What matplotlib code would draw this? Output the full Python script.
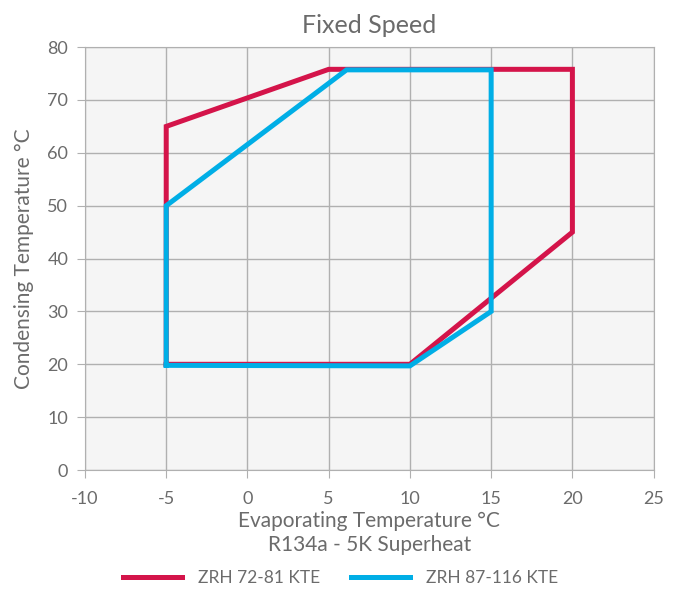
import matplotlib
matplotlib.use("Agg")
import matplotlib.pyplot as plt

plt.rcParams['font.family'] = ['Lato', 'DejaVu Sans']
plt.rcParams['axes.unicode_minus'] = False

# envelope corners (evaporating, condensing)
red_x = [-5, -5, 5, 20, 20, 10, -5]
red_y = [20, 65, 75.8, 75.8, 45, 20, 20]
blue_x = [-5, -5, 6.1, 15, 15, 10, -5]
blue_y = [19.8, 50, 75.7, 75.7, 30, 19.7, 19.8]

txt = '#6b6b6b'

fig = plt.figure(figsize=(6.81, 5.89), dpi=100)
ax = fig.add_axes([0.1248, 0.202, 0.835, 0.718])
ax.set_facecolor('#f5f5f5')

ax.plot(red_x, red_y, color='#d4144a', lw=3.6, label='ZRH 72-81 KTE', solid_joinstyle='miter', zorder=3)
ax.plot(blue_x, blue_y, color='#00aee6', lw=3.6, label='ZRH 87-116 KTE', solid_joinstyle='miter', zorder=4)

ax.set_xlim(-10, 25)
ax.set_ylim(0, 80)
ax.set_xticks(range(-10, 26, 5))
ax.set_yticks(range(0, 81, 10))
ax.grid(True, color='#b0b0b0', lw=1)
for s in ax.spines.values():
    s.set_color('#b0b0b0')
ax.tick_params(colors='#b0b0b0', labelcolor=txt, labelsize=13, length=6)
ax.tick_params(axis='x', pad=9)
ax.tick_params(axis='y', pad=6)

ax.set_title('Fixed Speed', fontsize=18, color=txt, pad=10)
ax.set_xlabel('Evaporating Temperature \u00b0C\nR134a - 5K Superheat', fontsize=15, color=txt, labelpad=3, linespacing=1.25)
ax.set_ylabel('Condensing Temperature \u00b0C', fontsize=15, color=txt, labelpad=10)

fig.legend(loc='lower center', ncol=2, frameon=False, fontsize=12.5, labelcolor=txt,
           bbox_to_anchor=(0.5, -0.022), handlelength=3.4, columnspacing=1.8, handletextpad=0.9)

fig.savefig('out.png', dpi=100)
